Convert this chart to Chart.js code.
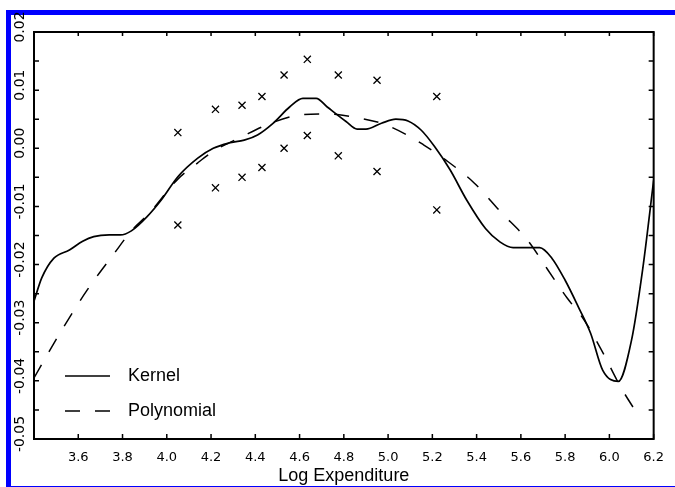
<!DOCTYPE html>
<html>
<head>
<meta charset="utf-8">
<script src="https://cdn.jsdelivr.net/npm/chart.js@4.4.1/dist/chart.umd.min.js"></script>
<style>
  html, body { margin: 0; padding: 0; background: #fff; overflow: hidden; }
  #frame { position: absolute; left: 6px; top: 10px; width: 669px; height: 477px; box-sizing: border-box;
           border-top: 5px solid #0000ff; border-left: 5px solid #0000ff; border-bottom: 1px solid #0000ff; }
  #wrap { position: absolute; left: 0; top: 0; width: 675px; height: 487px; }
</style>
</head>
<body>
<div id="frame"></div>
<div id="wrap"><canvas id="engel"></canvas></div>
<script>
// kernel fit (solid line)
var kernelX = [3.40, 3.435, 3.49, 3.56, 3.62, 3.67, 3.74, 3.79, 3.84, 3.91, 3.975, 4.05, 4.14, 4.21, 4.28,
               4.35, 4.41, 4.48, 4.555, 4.615, 4.675, 4.725, 4.81, 4.86, 4.90, 4.97, 5.035, 5.09, 5.15, 5.21,
               5.28, 5.355, 5.44, 5.505, 5.565, 5.685, 5.74, 5.80, 5.86, 5.915, 5.97, 6.04, 6.10, 6.15, 6.20];
var kernelY = [-0.0263, -0.0223, -0.0189, -0.0175, -0.0160, -0.0152, -0.0149, -0.0149, -0.0142, -0.0118,
               -0.0089, -0.0049, -0.0017, 0.0000, 0.0009, 0.0014, 0.0023, 0.0043, 0.0071, 0.0086,
               0.0086, 0.0071, 0.0046, 0.0033, 0.0033, 0.0043, 0.0050, 0.0047, 0.0031, 0.0003,
               -0.0037, -0.0089, -0.0138, -0.0161, -0.0171, -0.0171, -0.0189, -0.0227, -0.0273, -0.0318,
               -0.0382, -0.0401, -0.0330, -0.0209, -0.0055];

// polynomial fit (dashed line)
var polyX = [3.40, 3.52, 3.64, 3.76, 3.84, 3.92, 4.05, 4.14, 4.22, 4.34, 4.45, 4.58, 4.70, 4.77,
             4.84, 4.97, 5.10, 5.16, 5.26, 5.39, 5.51, 5.63, 5.72, 5.81, 5.88, 5.96, 6.05, 6.14];
var polyY = [-0.0395, -0.0316, -0.0244, -0.0182, -0.0142, -0.0112, -0.0053, -0.0025, -0.0003, 0.0020,
             0.0040, 0.0056, 0.0059, 0.0058, 0.0054, 0.0043, 0.0020, 0.0006, -0.0020, -0.0060,
             -0.0110, -0.0158, -0.0208, -0.0258, -0.0292, -0.0344, -0.0410, -0.0465];

// x markers
var markerX = [4.05, 4.22, 4.34, 4.43, 4.53, 4.635, 4.775, 4.95, 5.22];
var upperY = [0.0027, 0.0067, 0.0074, 0.0089, 0.0126, 0.0153, 0.0126, 0.0117, 0.0089];
var lowerY = [-0.0132, -0.0068, -0.0050, -0.0033, 0.0000, 0.0022, -0.0013, -0.0040, -0.0106];

function pairs(xs, ys) {
  return xs.map(function (x, i) { return { x: x, y: ys[i] }; });
}

// box with inward ticks, rotated y labels and the legend
var paperFrame = {
  id: 'paperFrame',
  afterDatasetsDraw: function (chart) {
    var ctx = chart.ctx, a = chart.chartArea;
    var xs = chart.scales.x, ys = chart.scales.y;
    ctx.save();
    ctx.strokeStyle = '#000';
    ctx.lineWidth = 2;
    ctx.strokeRect(a.left, a.top, a.right - a.left, a.bottom - a.top);

    ctx.lineWidth = 1.5;
    ctx.beginPath();
    xs.ticks.forEach(function (t) {
      var px = xs.getPixelForValue(t.value);
      ctx.moveTo(px, a.bottom); ctx.lineTo(px, a.bottom - 5);
      ctx.moveTo(px, a.top); ctx.lineTo(px, a.top + 4);
    });
    ys.ticks.forEach(function (t) {
      var py = ys.getPixelForValue(t.value);
      ctx.moveTo(a.left, py); ctx.lineTo(a.left + 5, py);
      ctx.moveTo(a.right, py); ctx.lineTo(a.right - 5, py);
    });
    ctx.stroke();

    // y labels, read bottom to top
    ctx.fillStyle = '#000';
    ctx.font = '14px "DejaVu Sans", sans-serif';
    ctx.textAlign = 'center';
    ctx.textBaseline = 'middle';
    ys.ticks.forEach(function (t) {
      var hundredths = t.value * 100;
      if (Math.abs(hundredths - Math.round(hundredths)) > 1e-6) return;
      var py = ys.getPixelForValue(t.value);
      ctx.save();
      ctx.translate(20, py - 5);
      ctx.rotate(-Math.PI / 2);
      ctx.fillText(t.value.toFixed(2), 0, 0);
      ctx.restore();
    });

    // legend
    ctx.font = '18px "Liberation Sans", Arial, sans-serif';
    ctx.textAlign = 'left';
    [[0, 376], [1, 411]].forEach(function (row) {
      var ds = chart.data.datasets[row[0]];
      ctx.lineWidth = ds.borderWidth;
      ctx.setLineDash(ds.borderDash || []);
      ctx.beginPath();
      ctx.moveTo(65, row[1]); ctx.lineTo(110, row[1]);
      ctx.stroke();
      ctx.setLineDash([]);
      ctx.fillText(ds.label, 128, row[1]);
    });
    ctx.restore();
  }
};

var ctx = document.getElementById('engel').getContext('2d');
var engel = new Chart(ctx, {
  type: 'scatter',
  data: {
    datasets: [{
      label: 'Kernel',
      data: pairs(kernelX, kernelY),
      showLine: true,
      borderColor: '#000',
      borderWidth: 1.7,
      pointRadius: 0,
      cubicInterpolationMode: 'monotone'
    }, {
      label: 'Polynomial',
      data: pairs(polyX, polyY),
      showLine: true,
      borderColor: '#000',
      borderWidth: 1.5,
      borderDash: [15, 15],
      pointRadius: 0,
      cubicInterpolationMode: 'monotone'
    }, {
      label: 'Upper',
      data: pairs(markerX, upperY),
      pointStyle: 'crossRot',
      pointRadius: 5,
      borderColor: '#000',
      borderWidth: 1.3
    }, {
      label: 'Lower',
      data: pairs(markerX, lowerY),
      pointStyle: 'crossRot',
      pointRadius: 5,
      borderColor: '#000',
      borderWidth: 1.3
    }]
  },
  options: {
    responsive: true,
    maintainAspectRatio: false,
    animation: false,
    layout: { padding: { left: 0, top: 32, right: 11, bottom: 0 } },
    plugins: { legend: { display: false }, tooltip: { enabled: false } },
    scales: {
      x: {
        type: 'linear',
        min: 3.4,
        max: 6.2,
        grid: { display: false, drawTicks: false, tickLength: 0 },
        border: { display: false },
        ticks: {
          stepSize: 0.2,
          autoSkip: false,
          maxRotation: 0,
          padding: 11,
          color: '#000',
          font: { family: 'DejaVu Sans', size: 13 },
          callback: function (v) { return v < 3.5 ? '' : v.toFixed(1); }
        },
        title: {
          display: true,
          text: 'Log Expenditure',
          color: '#000',
          padding: 0,
          font: { family: 'Liberation Sans', size: 18 }
        },
        afterFit: function (s) { s.height = 48; }
      },
      y: {
        type: 'linear',
        min: -0.05,
        max: 0.02,
        grid: { display: false, drawTicks: false, tickLength: 0 },
        border: { display: false },
        ticks: { stepSize: 0.005, display: false },
        afterFit: function (s) { s.width = 34; }
      }
    }
  },
  plugins: [paperFrame]
});
</script>
</body>
</html>
